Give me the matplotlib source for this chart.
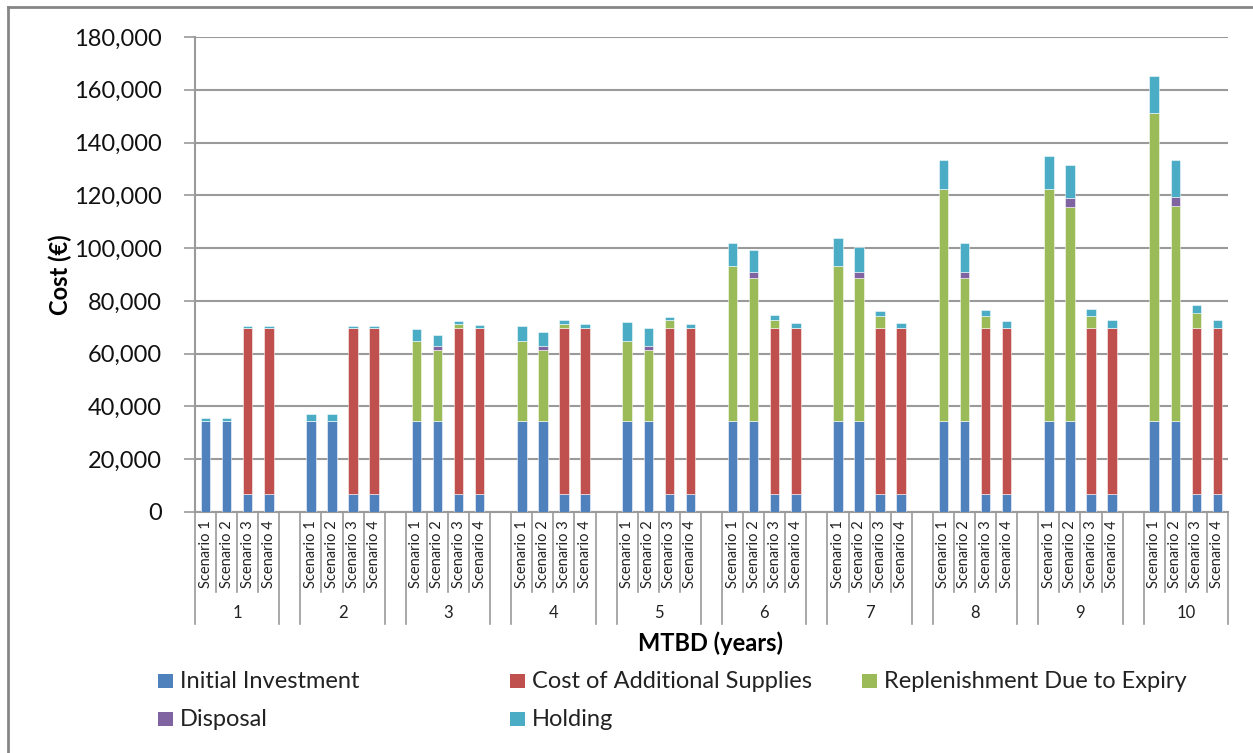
import matplotlib
matplotlib.use("Agg")
import matplotlib.pyplot as plt
from matplotlib.patches import Rectangle
from matplotlib.lines import Line2D
import numpy as np

plt.rcParams['font.family'] = ['Lato', 'DejaVu Sans']

# data (values in euros)
groups = ['1', '2', '3', '4', '5', '6', '7', '8', '9', '10']
scenarios = ['Scenario 1', 'Scenario 2', 'Scenario 3', 'Scenario 4']

initial = [34300, 34300, 7000, 7000,
           34300, 34300, 7000, 7000,
           34300, 34300, 7000, 7000,
           34300, 34300, 7000, 7000,
           34300, 34300, 7000, 7000,
           34300, 34300, 7000, 7000,
           34300, 34300, 7000, 7000,
           34300, 34300, 7000, 7000,
           34300, 34300, 7000, 7000,
           34300, 34300, 7000, 7000]
additional = [0, 0, 62900, 62900,
              0, 0, 62900, 62900,
              0, 0, 62900, 62900,
              0, 0, 62900, 62900,
              0, 0, 62900, 62900,
              0, 0, 62900, 62900,
              0, 0, 62900, 62900,
              0, 0, 62900, 62900,
              0, 0, 62900, 62900,
              0, 0, 62900, 62900]
replenish = [0, 0, 0, 0,
             0, 0, 0, 0,
             30500, 27100, 1400, 0,
             30500, 27100, 1400, 0,
             30500, 27100, 2700, 0,
             59100, 54200, 2700, 0,
             59100, 54300, 4200, 0,
             88100, 54300, 4200, 0,
             88100, 81300, 4200, 0,
             116800, 81800, 5700, 0]
disposal = [0, 0, 0, 0,
            0, 0, 0, 0,
            0, 1500, 0, 0,
            0, 1500, 0, 0,
            0, 1500, 0, 0,
            0, 2400, 0, 0,
            0, 2300, 0, 0,
            0, 2300, 0, 0,
            0, 3400, 0, 0,
            0, 3400, 0, 0]
holding = [1500, 1500, 500, 500,
           2900, 2900, 500, 500,
           4400, 4100, 1000, 900,
           5800, 5300, 1500, 1400,
           7300, 6700, 1400, 1300,
           8700, 8200, 1900, 1800,
           10400, 9700, 2000, 1800,
           11100, 11100, 2500, 2300,
           12500, 12500, 3000, 2800,
           14200, 14000, 2900, 2800]

series = ['Initial Investment', 'Cost of Additional Supplies',
          'Replenishment Due to Expiry', 'Disposal', 'Holding']
colors = ['#4F81BD', '#C0504D', '#9BBB59', '#8064A2', '#4BACC6']
values = [initial, additional, replenish, disposal, holding]

W, H = 1253, 753
fig = plt.figure(figsize=(W / 100, H / 100), dpi=100)
ax = fig.add_axes([195 / W, 1 - 512 / H, (1228 - 195) / W, (512 - 37) / H])

# x slots: 4 scenarios per group plus one empty slot between groups
xpos = np.array([g * 5 + s for g in range(len(groups)) for s in range(len(scenarios))])

bottom = np.zeros(len(xpos))
for name, col, vals in zip(series, colors, values):
    vals = np.array(vals, dtype=float)
    ax.bar(xpos, vals, width=0.45, bottom=bottom, color=col,
           edgecolor=(1, 1, 1, 0.6), linewidth=0.6, zorder=3)
    bottom += vals

grid_col = '#9a9a9a'
ax.set_xlim(-0.5, len(groups) * 5 - 1.5)
ax.set_ylim(0, 180000)
ax.set_yticks(np.arange(0, 180001, 20000))
ax.set_yticklabels([f'{v:,}' for v in range(0, 180001, 20000)])
ax.yaxis.grid(True, color=grid_col, linewidth=1.5, zorder=0)
ax.tick_params(axis='y', length=8, width=1.2, color=grid_col, pad=16,
               labelsize=17, labelcolor='#111111')
ax.set_xticks([])
for sp in ['top', 'right']:
    ax.spines[sp].set_visible(False)
for sp in ['left', 'bottom']:
    ax.spines[sp].set_color(grid_col)
    ax.spines[sp].set_linewidth(1.5)

# multi-level category axis
trans = ax.get_xaxis_transform()
short_y = -80 / 475
long_y = -112 / 475
line_kw = dict(color=grid_col, linewidth=1.2, transform=trans, clip_on=False)
for g, lab in enumerate(groups):
    left = g * 5 - 0.5
    right = g * 5 + 3.5
    ax.plot([left, left], [0, long_y], **line_kw)
    ax.plot([right, right], [0, long_y], **line_kw)
    for s in range(1, len(scenarios)):
        ax.plot([left + s, left + s], [0, short_y], **line_kw)
    for s, sl in enumerate(scenarios):
        ax.text(g * 5 + s, -0.005 - 6 / 475, sl, rotation=90, transform=trans,
                ha='center', va='top', fontsize=10.5, color='#222222')
    ax.text(g * 5 + 1.5, -101 / 475, lab, transform=trans, ha='center',
            va='center', fontsize=12, color='#222222')

ax.set_ylabel('Cost (€)', fontsize=17, fontweight='bold')
ax.yaxis.set_label_coords(-135 / (1228 - 195), 0.5)
ax.yaxis.label.set_va('center')
fig.text(710 / W, 1 - 643 / H, 'MTBD (years)', ha='center', va='center',
         fontsize=17, fontweight='bold')

# legend laid out as in the reference (fixed column widths, row-wise)
leg_cols = [158, 510, 862]
leg_rows = [681, 719]
for i, (name, col) in enumerate(zip(series, colors)):
    r, c = divmod(i, 3)
    x0, yc = leg_cols[c], leg_rows[r]
    fig.patches.append(Rectangle((x0 / W, 1 - (yc + 7) / H), 15 / W, 14 / H,
                                 transform=fig.transFigure, facecolor=col,
                                 edgecolor='none'))
    fig.text((x0 + 22) / W, 1 - (yc + 1) / H, name, ha='left', va='center',
             fontsize=17, color='#222222')

# outer chart frame (top and left visible)
fig.add_artist(Line2D([8 / W, 8 / W], [0, 1 - 7 / H], transform=fig.transFigure,
                      color='#868686', linewidth=2))
fig.add_artist(Line2D([8 / W, 1], [1 - 7 / H, 1 - 7 / H], transform=fig.transFigure,
                      color='#868686', linewidth=2))

fig.savefig('out.png', dpi=100, facecolor='white')
